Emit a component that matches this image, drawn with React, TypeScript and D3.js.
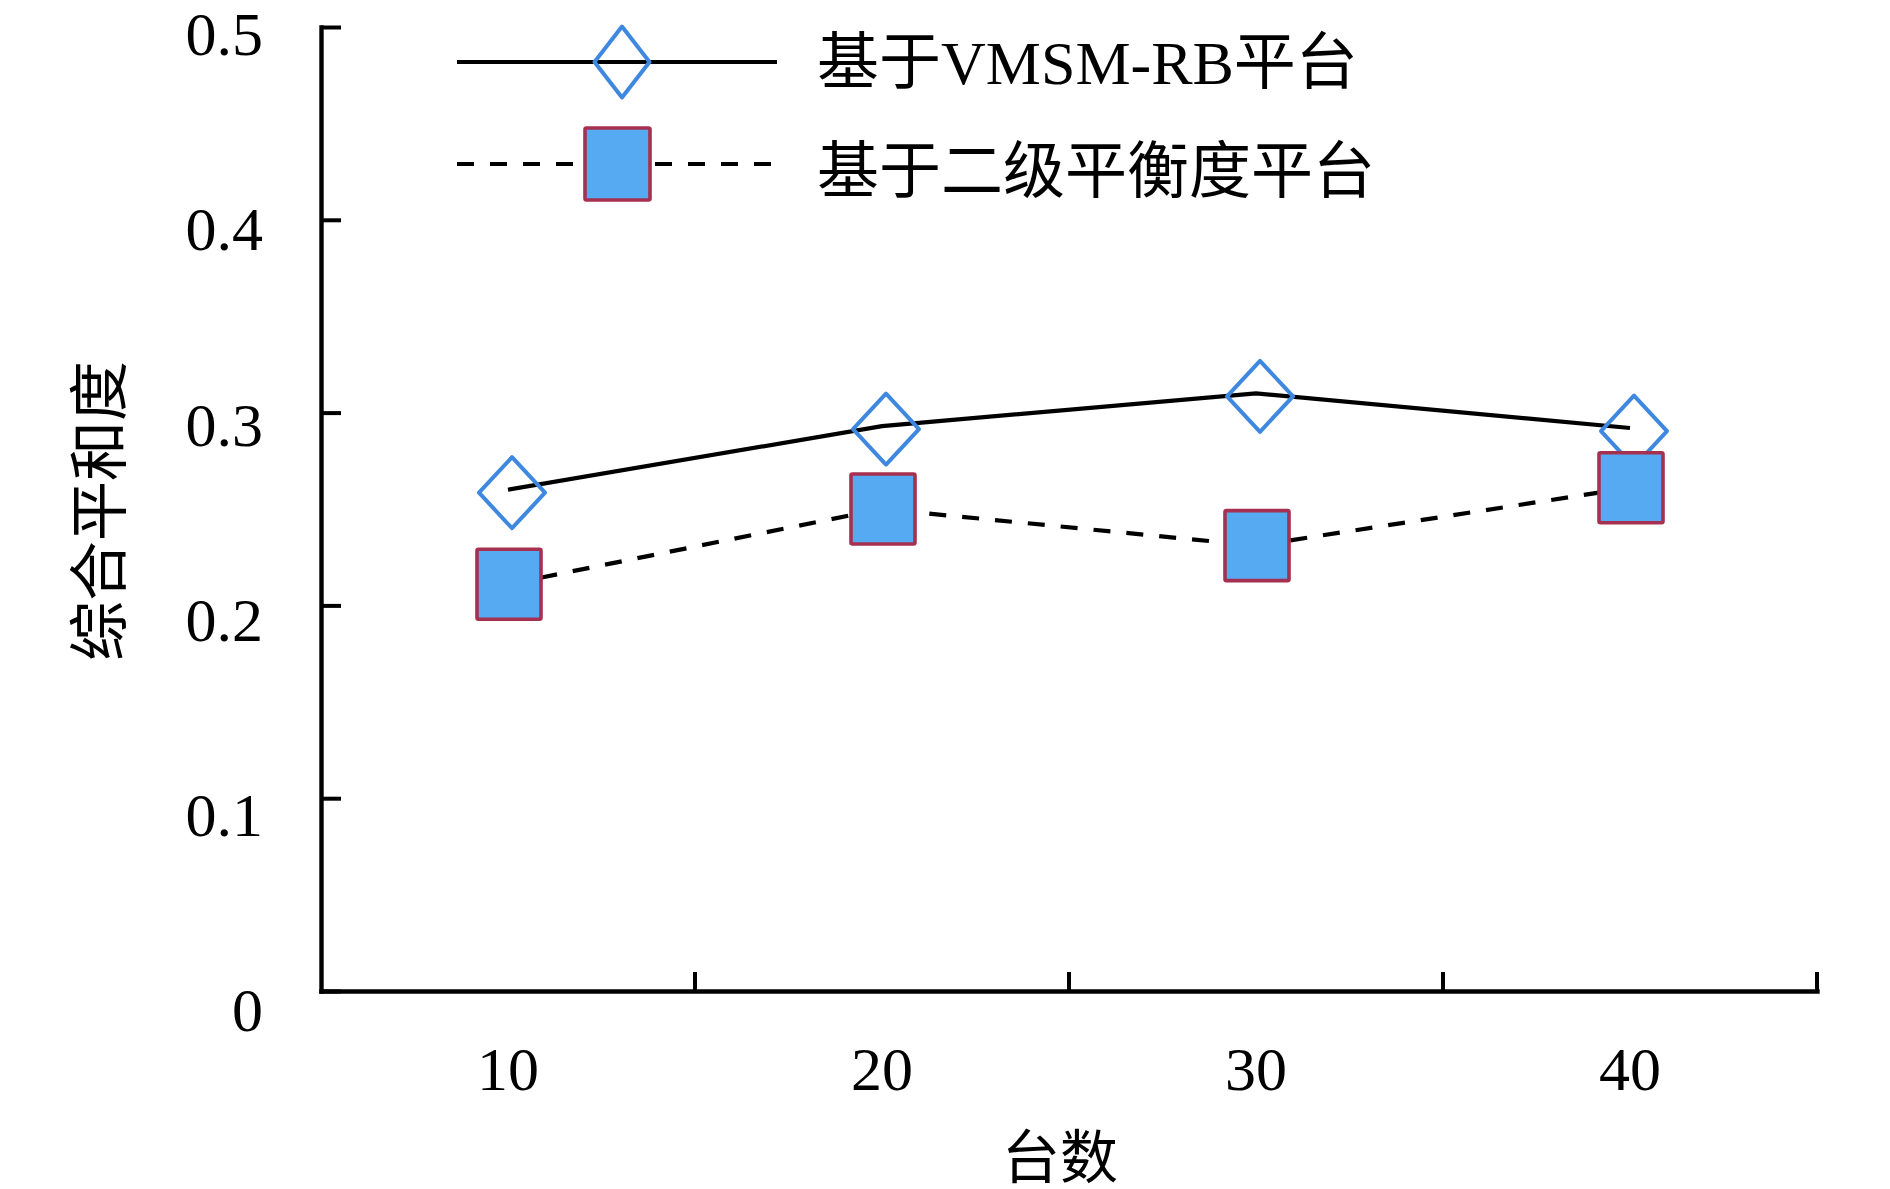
import { useEffect, useRef } from "react";
import * as d3 from "d3";

// 台数 categories and the two series of 综合平和度
const categories = ["10", "20", "30", "40"];
const vmsmValues = [0.26, 0.293, 0.31, 0.292];
const twoLevelValues = [0.211, 0.25, 0.231, 0.261];
const yTicks = [0, 0.1, 0.2, 0.3, 0.4, 0.5];
const seriesNames = ["基于VMSM-RB平台", "基于二级平衡度平台"];
const xTitle = "台数";
const yTitle = "综合平和度";

const W = 1890;
const H = 1189;
const FONT = "'Liberation Serif', 'Times New Roman', 'Noto Sans CJK SC', serif";
const DIAMOND_STROKE = "#3f88e0";
const SQUARE_FILL = "#55aaf2";
const SQUARE_STROKE = "#a6304f";

const diamondPath = (hw: number, hh: number) => `M0,${-hh}L${hw},0L0,${hh}L${-hw},0Z`;

export default function App() {
    const svgRef = useRef<SVGSVGElement>(null);

    useEffect(() => {
        if (!svgRef.current) return;
        const svg = d3.select(svgRef.current);
        svg.selectAll("*").remove();

        const left = 321, right = 1817, top = 27, bottom = 991;
        const x = d3.scaleBand().domain(categories).range([left, right]);
        const y = d3.scaleLinear().domain([0, 0.5]).range([bottom, top]);
        // tick labels sit slightly lower than their ticks, more so near the bottom
        const yLabel = d3.scaleLinear().domain([0, 0.5]).range([bottom + 18, top + 6]);
        const cx = (c: string) => (x(c) ?? 0) + x.bandwidth() / 2;

        // Y axis, ticks pointing inward
        svg.append("g").attr("transform", `translate(${left},0)`)
            .call(d3.axisLeft(y).tickValues(yTicks).tickSizeInner(-20).tickSizeOuter(0).tickPadding(58)
                .tickFormat(d => (Number(d) === 0 ? "0" : d3.format(".1f")(Number(d)))))
            .call(g => g.select(".domain").attr("stroke", "#000").attr("stroke-width", 4.4).attr("stroke-linecap", "square"))
            .call(g => g.selectAll(".tick line").attr("stroke", "#000").attr("stroke-width", 4))
            .call(g => g.selectAll<SVGTextElement, number>(".tick text").attr("fill", "#000").attr("dy", "0.35em")
                .attr("transform", d => `translate(0,${yLabel(d) - y(d)})`)
                .style("font-family", FONT).style("font-size", "62px"));

        // X axis: labels at band centres, ticks at band boundaries
        svg.append("g").attr("transform", `translate(0,${bottom})`)
            .call(d3.axisBottom(x).tickSize(0).tickPadding(77))
            .call(g => g.select(".domain").attr("stroke", "#000").attr("stroke-width", 4.4).attr("stroke-linecap", "square"))
            .call(g => g.selectAll(".tick text").attr("fill", "#000").attr("dy", "0.35em")
                .style("font-family", FONT).style("font-size", "62px"));

        const bounds = [...categories.slice(1).map(c => x(c) ?? 0), right];
        svg.append("g").selectAll("line").data(bounds).join("line")
            .attr("x1", d => d).attr("x2", d => d)
            .attr("y1", bottom).attr("y2", bottom - 19)
            .attr("stroke", "#000").attr("stroke-width", 4);

        // Axis titles
        svg.append("text").attr("x", 1060).attr("y", 1158)
            .attr("text-anchor", "middle").attr("dominant-baseline", "central")
            .style("font-family", FONT).style("font-size", "58px").text(xTitle);
        svg.append("text").attr("transform", "translate(101,511) rotate(-90)")
            .attr("text-anchor", "middle").attr("dominant-baseline", "central")
            .style("font-family", FONT).style("font-size", "60px").text(yTitle);

        // Series lines
        const line = d3.line<number>().x((_, i) => cx(categories[i]!)).y(d => y(d));
        svg.append("path").datum(vmsmValues).attr("d", line)
            .attr("fill", "none").attr("stroke", "#000").attr("stroke-width", 4.2);
        svg.append("path").datum(twoLevelValues).attr("d", line)
            .attr("fill", "none").attr("stroke", "#000").attr("stroke-width", 4.2)
            .attr("stroke-dasharray", "17,16");

        // Markers
        svg.append("g").selectAll("path").data(vmsmValues).join("path")
            .attr("transform", (d, i) => `translate(${cx(categories[i]!) + 4},${y(d) + 3})`)
            .attr("d", diamondPath(33, 35.5))
            .attr("fill", "none").attr("stroke", DIAMOND_STROKE).attr("stroke-width", 4).attr("stroke-linejoin", "round");
        svg.append("g").selectAll("rect").data(twoLevelValues).join("rect")
            .attr("x", (_, i) => cx(categories[i]!) - 31).attr("y", d => y(d) - 35)
            .attr("width", 64).attr("height", 70).attr("rx", 1.5)
            .attr("fill", SQUARE_FILL).attr("stroke", SQUARE_STROKE).attr("stroke-width", 3.6);

        // Legend
        const lg = svg.append("g");
        const rows = [62, 164];
        lg.append("line").attr("x1", 457).attr("x2", 777).attr("y1", rows[0]!).attr("y2", rows[0]!)
            .attr("stroke", "#000").attr("stroke-width", 4.2);
        lg.append("path").attr("transform", `translate(622,${rows[0]})`).attr("d", diamondPath(27.5, 35.5))
            .attr("fill", "none").attr("stroke", DIAMOND_STROKE).attr("stroke-width", 4).attr("stroke-linejoin", "round");
        lg.append("line").attr("x1", 457).attr("x2", 774).attr("y1", rows[1]!).attr("y2", rows[1]!)
            .attr("stroke", "#000").attr("stroke-width", 4.2).attr("stroke-dasharray", "17,16");
        lg.append("rect").attr("x", 585).attr("y", rows[1]! - 36).attr("width", 65).attr("height", 72).attr("rx", 1.5)
            .attr("fill", SQUARE_FILL).attr("stroke", SQUARE_STROKE).attr("stroke-width", 3.6);
        lg.selectAll("text.name").data(seriesNames).join("text").attr("class", "name")
            .attr("x", 817).attr("y", (_, i) => [63, 172][i]!)
            .attr("dominant-baseline", "central")
            .style("font-family", FONT).style("font-size", "62px")
            .text(d => d);
    }, []);

    return (
        <div style={{ position: "absolute", left: 0, top: 0, background: "#fff" }}>
            <svg ref={svgRef} width={W} height={H} viewBox={`0 0 ${W} ${H}`} style={{ display: "block" }} />
        </div>
    );
}
